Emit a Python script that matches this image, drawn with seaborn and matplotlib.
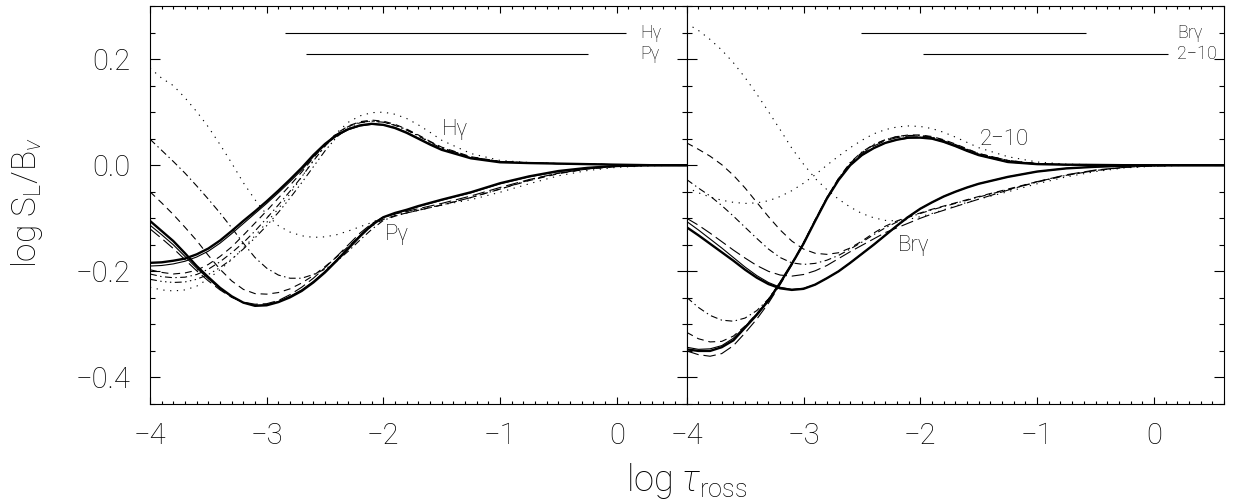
import matplotlib
matplotlib.use("Agg")
import matplotlib.pyplot as plt
from matplotlib.ticker import MultipleLocator, FixedLocator, FuncFormatter
import seaborn as sns

# log tau_ross sampling shared by every curve
TAU = [-4.0, -3.9, -3.8, -3.7, -3.6, -3.5, -3.4, -3.3, -3.2, -3.1,
       -3.0, -2.9, -2.8, -2.7, -2.6, -2.5, -2.4, -2.3, -2.2, -2.1,
       -2.0, -1.9, -1.8, -1.7, -1.6, -1.5, -1.25, -1.0, -0.75, -0.5,
       -0.25, 0.0, 0.3, 0.6]

# ---- left panel: H gamma family ----
HG_SOLID_A = [-0.184, -0.183, -0.180, -0.176, -0.168, -0.157, -0.142, -0.124, -0.105, -0.087,
              -0.068, -0.048, -0.027, -0.005, 0.019, 0.040, 0.057, 0.068, 0.075, 0.078,
              0.076, 0.070, 0.061, 0.050, 0.039, 0.029, 0.013, 0.0055, 0.004, 0.003,
              0.002, 0.001, 0.0, 0.0]
HG_SOLID_B = [-0.190, -0.189, -0.186, -0.181, -0.173, -0.162, -0.147, -0.129, -0.110, -0.091,
              -0.072, -0.052, -0.031, -0.009, 0.016, 0.038, 0.055, 0.067, 0.074, 0.077,
              0.076, 0.071, 0.062, 0.051, 0.040, 0.030, 0.014, 0.006, 0.0042, 0.003,
              0.002, 0.001, 0.0, 0.0]
HG_DASH = [-0.197, -0.202, -0.205, -0.203, -0.198, -0.187, -0.172, -0.154, -0.132, -0.109,
           -0.086, -0.062, -0.038, -0.013, 0.014, 0.039, 0.060, 0.074, 0.082, 0.085,
           0.083, 0.077, 0.068, 0.057, 0.045, 0.034, 0.016, 0.007, 0.0045, 0.003,
           0.002, 0.001, 0.0, 0.0]
HG_DASHDOT = [-0.205, -0.210, -0.212, -0.211, -0.206, -0.196, -0.182, -0.165, -0.146, -0.124,
              -0.100, -0.075, -0.049, -0.022, 0.008, 0.036, 0.058, 0.073, 0.081, 0.083,
              0.081, 0.075, 0.066, 0.055, 0.043, 0.032, 0.015, 0.007, 0.0045, 0.003,
              0.002, 0.001, 0.0, 0.0]
HG_DASHDOT3 = [-0.215, -0.219, -0.221, -0.220, -0.215, -0.206, -0.193, -0.177, -0.158, -0.137,
               -0.114, -0.089, -0.062, -0.033, -0.003, 0.027, 0.053, 0.071, 0.080, 0.083,
               0.081, 0.076, 0.067, 0.056, 0.044, 0.033, 0.015, 0.007, 0.0045, 0.003,
               0.002, 0.001, 0.0, 0.0]
HG_DOT = [-0.230, -0.235, -0.237, -0.235, -0.228, -0.214, -0.197, -0.178, -0.156, -0.133,
          -0.108, -0.082, -0.054, -0.022, 0.009, 0.036, 0.061, 0.081, 0.093, 0.099,
          0.100, 0.096, 0.088, 0.076, 0.062, 0.047, 0.022, 0.009, 0.005, 0.003,
          0.002, 0.001, 0.0, 0.0]

# ---- left panel: P gamma family ----
PG_SOLID_A = [-0.105, -0.124, -0.143, -0.166, -0.190, -0.211, -0.231, -0.247, -0.259, -0.265,
              -0.264, -0.258, -0.249, -0.237, -0.221, -0.202, -0.180, -0.157, -0.134, -0.113,
              -0.098, -0.090, -0.084, -0.077, -0.071, -0.065, -0.051, -0.034, -0.021, -0.011,
              -0.005, -0.0015, 0.0, 0.0]
PG_SOLID_B = [-0.113, -0.131, -0.150, -0.172, -0.194, -0.214, -0.233, -0.248, -0.259, -0.264,
              -0.263, -0.257, -0.247, -0.235, -0.219, -0.200, -0.178, -0.155, -0.132, -0.112,
              -0.098, -0.091, -0.085, -0.078, -0.072, -0.066, -0.052, -0.035, -0.022, -0.012,
              -0.005, -0.0015, 0.0, 0.0]
PG_LONGDASH = [-0.120, -0.138, -0.157, -0.178, -0.199, -0.218, -0.235, -0.249, -0.258, -0.262,
               -0.261, -0.255, -0.244, -0.230, -0.213, -0.193, -0.172, -0.150, -0.128, -0.110,
               -0.098, -0.092, -0.087, -0.082, -0.077, -0.072, -0.058, -0.042, -0.027, -0.015,
               -0.007, -0.002, 0.0, 0.0]
PG_DASH = [-0.050, -0.071, -0.093, -0.117, -0.142, -0.170, -0.196, -0.218, -0.234, -0.242,
           -0.243, -0.240, -0.233, -0.222, -0.208, -0.191, -0.173, -0.153, -0.133, -0.115,
           -0.102, -0.095, -0.090, -0.085, -0.080, -0.075, -0.061, -0.045, -0.029, -0.016,
           -0.007, -0.002, 0.0, 0.0]
PG_DASHDOT = [0.049, 0.028, 0.007, -0.015, -0.039, -0.064, -0.090, -0.118, -0.147, -0.174,
              -0.194, -0.207, -0.213, -0.213, -0.206, -0.196, -0.181, -0.162, -0.141, -0.121,
              -0.104, -0.096, -0.090, -0.085, -0.080, -0.075, -0.061, -0.045, -0.028, -0.015,
              -0.007, -0.002, 0.0, 0.0]
PG_DOT = [0.183, 0.164, 0.150, 0.127, 0.101, 0.072, 0.039, 0.004, -0.033, -0.065,
          -0.093, -0.114, -0.126, -0.133, -0.136, -0.135, -0.131, -0.124, -0.116, -0.108,
          -0.098, -0.093, -0.088, -0.083, -0.079, -0.075, -0.065, -0.051, -0.035, -0.020,
          -0.010, -0.004, -0.001, 0.0]

# ---- right panel: Br gamma family ----
BR_SOLID_A = [-0.117, -0.132, -0.148, -0.164, -0.180, -0.197, -0.212, -0.224, -0.232, -0.235,
              -0.233, -0.225, -0.213, -0.200, -0.184, -0.167, -0.150, -0.132, -0.114, -0.097,
              -0.082, -0.070, -0.059, -0.050, -0.042, -0.035, -0.022, -0.012, -0.006, -0.003,
              -0.001, 0.0, 0.0, 0.0]
BR_SOLID_B = [-0.106, -0.122, -0.139, -0.156, -0.174, -0.192, -0.208, -0.221, -0.230, -0.234,
              -0.232, -0.225, -0.213, -0.200, -0.184, -0.167, -0.150, -0.132, -0.114, -0.097,
              -0.082, -0.070, -0.059, -0.050, -0.042, -0.035, -0.022, -0.012, -0.006, -0.003,
              -0.001, 0.0, 0.0, 0.0]
BR_LONGDASH = [-0.100, -0.113, -0.128, -0.144, -0.160, -0.175, -0.189, -0.200, -0.207, -0.209,
               -0.206, -0.199, -0.189, -0.176, -0.163, -0.151, -0.139, -0.127, -0.118, -0.109,
               -0.100, -0.092, -0.085, -0.078, -0.071, -0.064, -0.047, -0.031, -0.018, -0.009,
               -0.004, -0.001, 0.0, 0.0]
BR_DASH = [0.042, 0.030, 0.017, 0.001, -0.019, -0.043, -0.070, -0.097, -0.122, -0.143,
           -0.158, -0.166, -0.168, -0.165, -0.156, -0.143, -0.128, -0.115, -0.105, -0.097,
           -0.090, -0.083, -0.077, -0.071, -0.065, -0.059, -0.045, -0.031, -0.019, -0.010,
           -0.004, -0.001, 0.0, 0.0]
BR_DASHDOT = [-0.027, -0.043, -0.058, -0.076, -0.096, -0.117, -0.138, -0.158, -0.174, -0.184,
              -0.187, -0.185, -0.179, -0.170, -0.158, -0.145, -0.131, -0.118, -0.107, -0.098,
              -0.091, -0.084, -0.078, -0.072, -0.066, -0.060, -0.046, -0.032, -0.019, -0.010,
              -0.004, -0.001, 0.0, 0.0]
BR_DOT = [0.267, 0.254, 0.237, 0.217, 0.193, 0.165, 0.134, 0.101, 0.067, 0.032,
          0.002, -0.025, -0.046, -0.064, -0.079, -0.091, -0.099, -0.104, -0.105, -0.102,
          -0.097, -0.091, -0.084, -0.077, -0.070, -0.064, -0.050, -0.035, -0.022, -0.012,
          -0.005, -0.002, 0.0, 0.0]

# ---- right panel: 2-10 family ----
L210_SOLID_A = [-0.347, -0.350, -0.350, -0.343, -0.330, -0.306, -0.282, -0.255, -0.222, -0.186,
                -0.148, -0.105, -0.063, -0.028, 0.000, 0.019, 0.032, 0.042, 0.048, 0.052,
                0.052, 0.050, 0.044, 0.036, 0.027, 0.019, 0.006, 0.002, 0.001, 0.0005,
                0.0, 0.0, 0.0, 0.0]
L210_SOLID_B = [-0.343, -0.347, -0.346, -0.340, -0.326, -0.304, -0.280, -0.253, -0.221, -0.186,
                -0.148, -0.105, -0.063, -0.028, 0.000, 0.019, 0.032, 0.042, 0.048, 0.051,
                0.052, 0.050, 0.044, 0.036, 0.027, 0.019, 0.006, 0.002, 0.001, 0.0005,
                0.0, 0.0, 0.0, 0.0]
L210_LONGDASH = [-0.350, -0.357, -0.360, -0.355, -0.340, -0.316, -0.290, -0.260, -0.225, -0.188,
                 -0.148, -0.104, -0.062, -0.026, 0.002, 0.022, 0.036, 0.046, 0.052, 0.055,
                 0.055, 0.052, 0.046, 0.038, 0.029, 0.021, 0.008, 0.003, 0.001, 0.0,
                 0.0, 0.0, 0.0, 0.0]
L210_DASH = [-0.315, -0.327, -0.333, -0.332, -0.322, -0.303, -0.280, -0.253, -0.221, -0.185,
             -0.146, -0.103, -0.061, -0.025, 0.004, 0.024, 0.038, 0.048, 0.054, 0.057,
             0.057, 0.054, 0.048, 0.040, 0.031, 0.022, 0.009, 0.003, 0.001, 0.0,
             0.0, 0.0, 0.0, 0.0]
L210_DASHDOT = [-0.249, -0.268, -0.283, -0.292, -0.294, -0.288, -0.274, -0.252, -0.221, -0.185,
                -0.146, -0.103, -0.061, -0.025, 0.005, 0.025, 0.039, 0.048, 0.054, 0.056,
                0.056, 0.053, 0.047, 0.039, 0.030, 0.022, 0.009, 0.003, 0.001, 0.0,
                0.0, 0.0, 0.0, 0.0]
L210_DOT = [-0.042, -0.052, -0.060, -0.066, -0.070, -0.072, -0.071, -0.067, -0.059, -0.048,
            -0.034, -0.018, 0.000, 0.017, 0.033, 0.047, 0.059, 0.067, 0.072, 0.074,
            0.073, 0.069, 0.062, 0.053, 0.043, 0.033, 0.016, 0.006, 0.002, 0.001,
            0.0, 0.0, 0.0, 0.0]

# formation-depth bars at the top of each panel
LEFT_BAR_NAMES = ["H\u03b3", "P\u03b3"]
LEFT_BAR_START = [-2.84, -2.66]
LEFT_BAR_END = [0.08, -0.245]
RIGHT_BAR_NAMES = ["Br\u03b3", "2\u221210"]
RIGHT_BAR_START = [-2.51, -1.98]
RIGHT_BAR_END = [-0.58, 0.12]
BAR_LEVELS = [0.25, 0.21]
BAR_LABEL_X = 0.20

# line labels placed next to the curves
LEFT_CURVE_LABELS = [("H\u03b3", -1.50, 0.067), ("P\u03b3", -1.99, -0.130)]
RIGHT_CURVE_LABELS = [("2\u221210", -1.49, 0.048), ("Br\u03b3", -2.19, -0.152)]

Y_TICKS = [-0.4, -0.2, 0.0, 0.2]
X_TICKS = [-4, -3, -2, -1, 0]

STYLES = {
    "solid_a": dict(lw=1.7, ls="-"),
    "solid_b": dict(lw=0.8, ls="-"),
    "longdash": dict(lw=0.8, ls=(0, (9, 3.5))),
    "dash": dict(lw=0.8, ls=(0, (5, 3.5))),
    "dashdot": dict(lw=0.8, ls=(0, (5, 2.5, 1, 2.5))),
    "dashdot3": dict(lw=0.8, ls=(0, (5, 2.5, 1, 2.5, 1, 2.5, 1, 2.5))),
    "dot": dict(lw=0.8, ls=(0, (0.9, 4.0))),
}

LEFT_CURVES = [
    (HG_DOT, "dot"), (HG_DASHDOT3, "dashdot3"), (HG_DASHDOT, "dashdot"),
    (HG_DASH, "dash"), (HG_SOLID_B, "solid_b"), (HG_SOLID_A, "solid_a"),
    (PG_DOT, "dot"), (PG_DASHDOT, "dashdot"), (PG_DASH, "dash"),
    (PG_LONGDASH, "longdash"), (PG_SOLID_B, "solid_b"), (PG_SOLID_A, "solid_a"),
]
RIGHT_CURVES = [
    (BR_DOT, "dot"), (BR_DASHDOT, "dashdot"), (BR_DASH, "dash"),
    (BR_LONGDASH, "longdash"), (BR_SOLID_B, "solid_b"), (BR_SOLID_A, "solid_a"),
    (L210_DOT, "dot"), (L210_DASHDOT, "dashdot"), (L210_DASH, "dash"),
    (L210_LONGDASH, "longdash"), (L210_SOLID_B, "solid_b"), (L210_SOLID_A, "solid_a"),
]

sns.set_style("ticks")
plt.rcParams.update({
    "font.family": ["Roboto", "DejaVu Sans"],
    "font.weight": "light",
    "mathtext.fontset": "custom",
    "mathtext.rm": "Roboto:light",
    "mathtext.it": "Roboto:italic:light",
    "mathtext.default": "rm",
    "lines.scale_dashes": False,
    "axes.linewidth": 0.8,
    "axes.edgecolor": "black",
    "xtick.color": "black",
    "ytick.color": "black",
    "text.color": "black",
})

W, H = 1236, 499
fig = plt.figure(figsize=(W / 100, H / 100), dpi=100)
ax_l = fig.add_axes([150 / W, 95 / H, 536.7 / W, 398 / H])
ax_r = fig.add_axes([686.7 / W, 95 / H, 537.3 / W, 398 / H])


def minus(s):
    return s.replace("-", "\u2212")


def style_axis(ax, show_y):
    ax.set_xlim(-4.0, 0.6)
    ax.set_ylim(-0.45, 0.30)
    ax.xaxis.set_major_locator(FixedLocator(X_TICKS))
    ax.xaxis.set_minor_locator(MultipleLocator(0.1))
    ax.yaxis.set_major_locator(FixedLocator(Y_TICKS))
    ax.yaxis.set_minor_locator(MultipleLocator(0.05))
    ax.xaxis.set_major_formatter(FuncFormatter(lambda v, p: minus(f"{v:.0f}")))
    ax.yaxis.set_major_formatter(FuncFormatter(lambda v, p: minus(f"{v:.1f}")))
    ax.tick_params(which="both", direction="in", top=True, right=True,
                   width=0.8, colors="black")
    ax.tick_params(axis="x", which="major", length=5.0, pad=13, labelsize=21)
    ax.tick_params(axis="x", which="minor", length=2.5)
    ax.tick_params(axis="y", which="major", length=7.2, pad=14, labelsize=21)
    ax.tick_params(axis="y", which="minor", length=3.6)
    if not show_y:
        ax.tick_params(axis="y", which="both", labelleft=False)
    for sp in ax.spines.values():
        sp.set_visible(True)
        sp.set_linewidth(0.8)
    ax.set_xlabel("")
    ax.set_ylabel("")


def draw_curves(ax, curves):
    for values, key in curves:
        st = STYLES[key]
        sns.lineplot(x=TAU, y=values, ax=ax, color="black", linewidth=st["lw"],
                     errorbar=None, sort=False)
        ax.lines[-1].set_linestyle(st["ls"])


def draw_bars(ax, names, starts, ends):
    for name, x0, x1, lev in zip(names, starts, ends, BAR_LEVELS):
        ax.hlines(lev, x0, x1, color="black", lw=0.8)
        ax.text(BAR_LABEL_X, lev, name, fontsize=13, va="center", ha="left")


draw_curves(ax_l, LEFT_CURVES)
draw_curves(ax_r, RIGHT_CURVES)
draw_bars(ax_l, LEFT_BAR_NAMES, LEFT_BAR_START, LEFT_BAR_END)
draw_bars(ax_r, RIGHT_BAR_NAMES, RIGHT_BAR_START, RIGHT_BAR_END)
for txt, x, y in LEFT_CURVE_LABELS:
    ax_l.text(x, y, txt, fontsize=16, va="center", ha="left")
for txt, x, y in RIGHT_CURVE_LABELS:
    ax_r.text(x, y, txt, fontsize=16, va="center", ha="left")

style_axis(ax_l, True)
style_axis(ax_r, False)

fig.text(687 / W, 8 / H, r"log $\mathit{\tau}_{\rm ross}$", fontsize=26,
         ha="center", va="baseline")
fig.text(27 / W, (H - 203) / H, r"log S$_{\rm L}$/B$_{\mathit{\nu}}$", fontsize=24,
         ha="center", va="center", rotation=90)

fig.savefig("out.png", dpi=100)
